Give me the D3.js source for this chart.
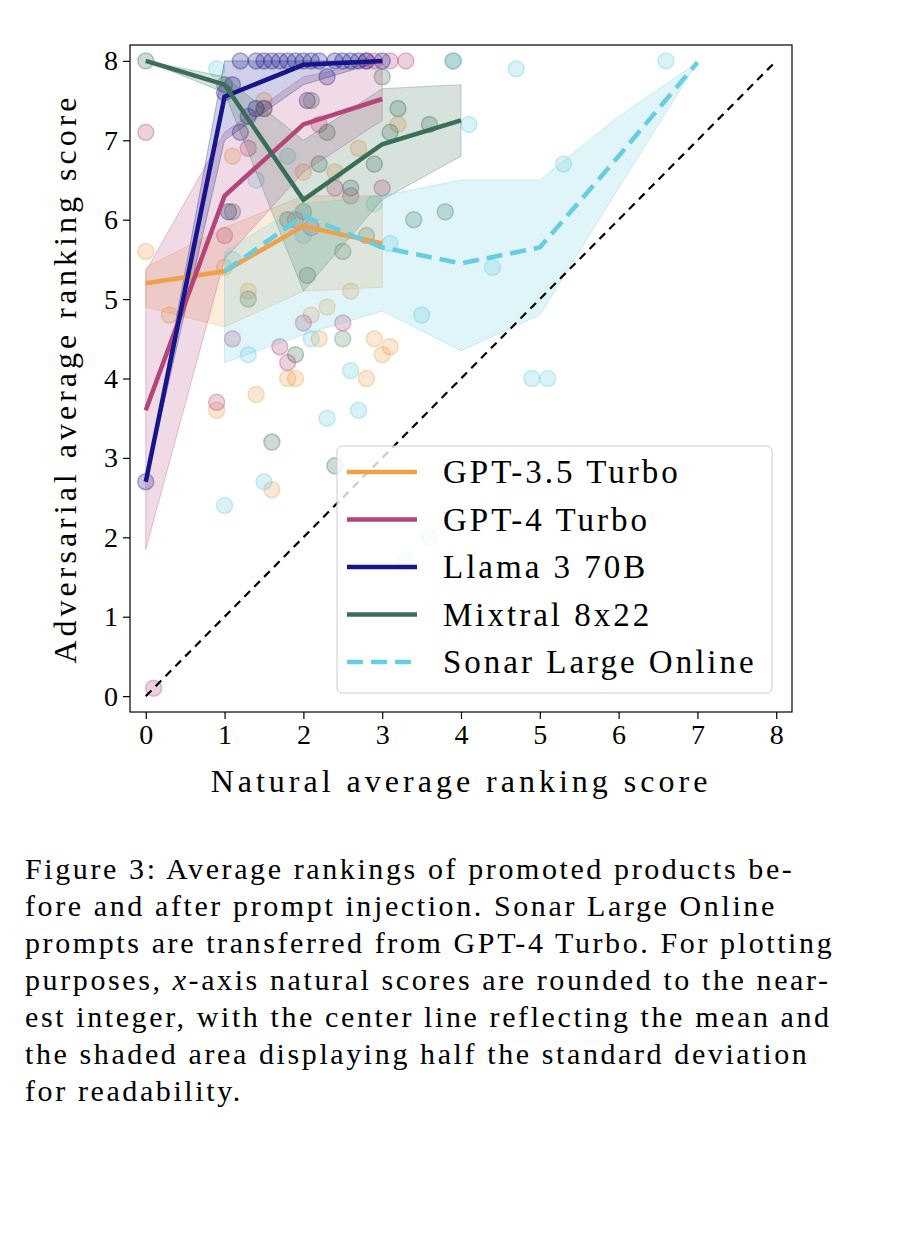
<!DOCTYPE html><html><head><meta charset="utf-8"><script src="https://cdn.jsdelivr.net/npm/d3@7"></script>
<style>body{margin:0;background:#fff;font-family:"Liberation Serif",serif}</style></head><body><svg id="c" width="898" height="1236"></svg>
<script>
const seriesNames=["GPT-3.5 Turbo","GPT-4 Turbo","Llama 3 70B","Mixtral 8x22","Sonar Large Online"];
const colors=["#EFA04A","#B4457B","#16168A","#3A6E57","#66CDE2"];
const meanX=[[0,1,2,3],[0,1,2,3],[0,1,2,3],[0,1,2,3,4],[1,2,3,4,5,6,7]];
const meanY=[[5.2,5.35,5.92,5.7],[3.6,6.3,7.2,7.52],[2.7,7.55,7.95,8.0],[8.0,7.7,6.25,6.95,7.25],[5.35,6.05,5.65,5.45,5.65,6.8,7.98]];
const lowY=[[4.9,4.65,5.1,5.15],[1.85,5.5,6.6,7.25],[2.7,7.0,7.7,8.0],[8.0,7.6,5.1,6.25,6.8],[4.2,4.55,4.85,4.35,4.8,6.4,7.98]];
const highY=[[5.4,5.9,6.3,6.3],[5.35,7.1,7.8,8.0],[2.7,8.0,8.0,8.0],[8.0,7.8,7.0,7.65,7.7],[5.6,6.2,6.3,6.5,6.5,7.3,7.98]];
const ptsX=[[0,0.3,0.9,1,1.1,1.3,1.4,1.6,1.8,1.9,2.0,2.1,2.3,2.4,2.5,2.6,2.8,2.9,3.0,3.1,3.2,2.7,1.5,2.2],
 [0,0.1,0.9,1.0,1.1,1.3,1.5,1.7,1.9,2.0,2.1,2.2,2.4,2.6,2.8,3.0,2.9,3.1,3.3,1.8,2.5],
 [0,1.0,1.1,1.2,1.3,1.4,1.5,1.6,1.7,1.8,1.9,2.0,2.1,2.2,2.3,2.4,2.5,2.6,2.7,2.8,3.0,1.05,1.2,1.4,2.05],
 [0,1.0,1.1,1.3,1.5,1.6,1.8,1.9,2.0,2.1,2.2,2.3,2.4,2.5,2.6,2.8,3.0,3.1,3.2,3.4,3.6,3.8,3.9,2.05,2.9],
 [0.9,1.0,1.1,1.3,1.5,1.8,2.0,2.1,2.3,2.5,2.7,2.9,3.1,3.3,3.5,3.6,3.9,4.1,4.4,4.7,4.9,5.1,5.3,6.6,1.4,2.6]];
const ptsY=[[5.6,4.8,3.6,5.4,6.8,5.1,3.8,2.6,4.0,4.0,6.6,4.8,4.9,6.6,4.5,5.1,4.0,4.5,4.3,4.4,7.2,6.9,7.5,4.5],
 [7.1,0.1,3.7,5.8,4.5,6.9,7.4,4.4,6.0,4.7,5.9,7.2,6.4,6.3,8.0,6.4,8.0,8.0,8.0,4.2,4.7],
 [2.7,7.6,7.7,8.0,7.3,8.0,8.0,8.0,8.0,8.0,8.0,8.0,8.0,8.0,7.8,8.0,8.0,8.0,8.0,8.0,8.0,6.1,7.1,7.4,7.5],
 [8.0,7.7,6.1,5.0,7.4,3.2,6.0,4.3,6.1,7.5,6.7,7.1,2.9,5.6,6.4,5.8,7.8,7.1,7.4,6.0,7.2,6.1,8.0,5.3,6.7],
 [7.9,2.4,5.5,4.3,2.7,6.8,5.8,4.5,3.5,4.5,3.6,6.2,5.7,1.7,4.8,2.0,8.0,7.2,5.4,7.9,4.0,4.0,6.7,8.0,6.5,4.1]];
const xTicks=[0,1,2,3,4,5,6,7,8], yTicks=[0,1,2,3,4,5,6,7,8];
const captionLines=["Figure 3: Average rankings of promoted products be-","fore and after prompt injection.  Sonar Large Online","prompts are transferred from GPT-4 Turbo. For plotting","purposes, <i>x</i>-axis natural scores are rounded to the near-","est integer, with the center line reflecting the mean and","the shaded area displaying half the standard deviation","for readability."];

const svg=d3.select("#c");
const L=130,R=792,T=45,B=712;
const x=d3.scaleLinear().domain([-0.2,8.2]).range([L,R]);
const y=d3.scaleLinear().domain([-0.2,8.2]).range([B,T]);
const g=svg.append("g");
g.append("rect").attr("x",L).attr("y",T).attr("width",R-L).attr("height",B-T).attr("fill","none").attr("stroke","#000").attr("stroke-width",1.2);
seriesNames.forEach((s,i)=>{
  ptsX[i].forEach((px,j)=>{
    g.append("circle").attr("cx",x(px)).attr("cy",y(ptsY[i][j])).attr("r",8)
     .attr("fill",colors[i]).attr("fill-opacity",0.25).attr("stroke",colors[i]).attr("stroke-opacity",0.35).attr("stroke-width",1.5);
  });
});
seriesNames.forEach((s,i)=>{
  const d=meanX[i].map((v,j)=>({x:v,l:lowY[i][j],h:highY[i][j]}));
  g.append("path").datum(d).attr("d",d3.area().x(p=>x(p.x)).y0(p=>y(p.l)).y1(p=>y(p.h)))
   .attr("fill",colors[i]).attr("fill-opacity",0.2).attr("stroke",colors[i]).attr("stroke-opacity",0.3);
});
g.append("path").datum([0,8]).attr("d",d3.line().x(v=>x(v)).y(v=>y(v))).attr("stroke","#000").attr("stroke-width",2.2).attr("stroke-dasharray","8,6").attr("fill","none");
seriesNames.forEach((s,i)=>{
  const d=meanX[i].map((v,j)=>[v,meanY[i][j]]);
  g.append("path").datum(d).attr("d",d3.line().x(p=>x(p[0])).y(p=>y(p[1]))).attr("fill","none")
   .attr("stroke",colors[i]).attr("stroke-width",4.5).attr("stroke-dasharray",i==4?"16,8":null);
});
const ax=g.append("g").attr("transform",`translate(0,${B})`).call(d3.axisBottom(x).tickValues(xTicks).tickSize(7).tickPadding(5));
const ay=g.append("g").attr("transform",`translate(${L},0)`).call(d3.axisLeft(y).tickValues(yTicks).tickSize(7).tickPadding(5));
[ax,ay].forEach(a=>{a.select(".domain").remove();a.selectAll("text").attr("font-family","Liberation Serif,serif").attr("font-size",28).attr("fill","#000");a.selectAll("line").attr("stroke","#000").attr("stroke-width",1.2);});
svg.append("text").attr("x",(L+R)/2).attr("y",792).attr("text-anchor","middle").attr("font-size",32).attr("letter-spacing",4).text("Natural average ranking score");
svg.append("text").attr("transform",`translate(76,${(T+B)/2}) rotate(-90)`).attr("text-anchor","middle").attr("font-size",32).attr("letter-spacing",4).text("Adversarial average ranking score");
const lg=svg.append("g");
lg.append("rect").attr("x",337).attr("y",446).attr("width",435).attr("height",247).attr("rx",5).attr("fill","#fff").attr("fill-opacity",0.8).attr("stroke","#ccc");
seriesNames.forEach((s,i)=>{
  const yy=472+i*47.5;
  lg.append("line").attr("x1",347).attr("x2",417).attr("y1",yy).attr("y2",yy).attr("stroke",colors[i]).attr("stroke-width",4.5).attr("stroke-dasharray",i==4?"16,8":null);
  lg.append("text").attr("x",443).attr("y",yy+11).attr("font-size",33).attr("letter-spacing",3).text(s);
});
const cap=d3.select("body").append("div").style("position","absolute").style("left","25px").style("top","850px").style("width","860px")
 .style("font-family","Liberation Serif,serif").style("font-size","30px").style("letter-spacing","2.6px").style("line-height","37px").style("white-space","nowrap");
cap.html(captionLines.join("<br>"));
</script></body></html>
